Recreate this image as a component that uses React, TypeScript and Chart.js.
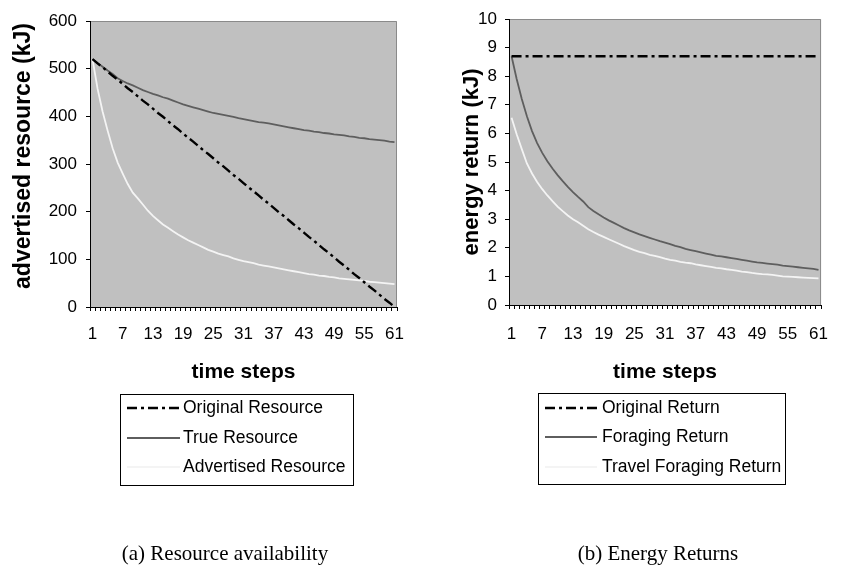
import React, { useEffect, useRef } from 'react';
import Chart from 'chart.js/auto';

// ---------- data ----------
const timeSteps = ['1','2','3','4','5','6','7','8','9','10','11','12','13','14','15','16','17','18','19','20','21','22','23','24','25','26','27','28','29','30','31','32','33','34','35','36','37','38','39','40','41','42','43','44','45','46','47','48','49','50','51','52','53','54','55','56','57','58','59','60','61'];
const shownTicks = ['1','7','13','19','25','31','37','43','49','55','61'];

const originalResource = [520,511,503,494,485,477,468,459,451,442,433,425,416,407,399,390,381,373,364,355,347,338,329,321,312,303,295,286,277,269,260,251,243,234,225,217,208,199,191,182,173,165,156,147,139,130,121,113,104,95,87,78,69,61,52,43,35,26,17,9,0];
const trueResource = [520,512,504,496,489,480,474,469,465,460,455,451,447,444,440,437,433,429,425,422,419,416,413,410,407,405,403,401,399,396,394,392,390,388,387,385,383,381,379,377,375,373,371,370,368,367,365,364,362,361,360,358,357,355,354,352,351,350,349,347,346];
const advertisedResource = [520,458,410,370,333,303,280,258,240,228,215,202,191,182,173,166,159,152,146,140,135,130,125,120,116,112,109,106,102,99,96,94,92,89,87,85,83,81,79,77,75,73,71,69,68,66,65,63,62,60,59,58,57,56,55,53,52,51,50,49,48];

const originalReturn = [8.7,8.7,8.7,8.7,8.7,8.7,8.7,8.7,8.7,8.7,8.7,8.7,8.7,8.7,8.7,8.7,8.7,8.7,8.7,8.7,8.7,8.7,8.7,8.7,8.7,8.7,8.7,8.7,8.7,8.7,8.7,8.7,8.7,8.7,8.7,8.7,8.7,8.7,8.7,8.7,8.7,8.7,8.7,8.7,8.7,8.7,8.7,8.7,8.7,8.7,8.7,8.7,8.7,8.7,8.7,8.7,8.7,8.7,8.7,8.7,8.7];
const foragingReturn = [8.7,7.9,7.2,6.6,6.08,5.66,5.32,5.03,4.77,4.54,4.33,4.13,3.95,3.78,3.62,3.42,3.29,3.17,3.06,2.96,2.87,2.78,2.69,2.61,2.54,2.47,2.41,2.35,2.29,2.23,2.18,2.13,2.07,2.02,1.96,1.92,1.88,1.84,1.8,1.76,1.72,1.7,1.67,1.64,1.61,1.58,1.55,1.52,1.49,1.47,1.45,1.43,1.41,1.38,1.36,1.34,1.32,1.3,1.28,1.26,1.23];
const travelForagingReturn = [6.55,5.97,5.45,4.95,4.6,4.3,4.05,3.83,3.63,3.44,3.28,3.13,3.0,2.89,2.77,2.65,2.55,2.46,2.38,2.3,2.22,2.14,2.06,1.99,1.92,1.86,1.81,1.75,1.72,1.67,1.62,1.58,1.55,1.51,1.48,1.46,1.42,1.39,1.36,1.33,1.3,1.28,1.25,1.23,1.2,1.17,1.15,1.12,1.1,1.08,1.07,1.05,1.03,1.0,0.99,0.98,0.97,0.96,0.95,0.94,0.93];

const SANS = '"Liberation Sans", Arial, Helvetica, sans-serif';
const SERIF = '"Liberation Serif", "Times New Roman", serif';

const panelPlugin = {
  id: 'panel',
  beforeDraw(chart: any) {
    const { ctx, chartArea: a } = chart;
    ctx.save();
    ctx.fillStyle = '#c0c0c0';
    ctx.fillRect(a.left, a.top, a.right - a.left, a.bottom - a.top);
    ctx.strokeStyle = '#8a8a8a';
    ctx.lineWidth = 1;
    ctx.beginPath();
    ctx.moveTo(a.left, a.top + 0.5);
    ctx.lineTo(a.right - 0.5, a.top + 0.5);
    ctx.lineTo(a.right - 0.5, a.bottom);
    ctx.stroke();
    ctx.restore();
  },
  afterDraw(chart: any, _a: any, opts: any) {
    const { ctx } = chart;
    const L = opts.legend;
    ctx.save();
    // y axis title
    ctx.save();
    ctx.translate(opts.yTitleX, opts.yTitleY);
    ctx.rotate(-Math.PI / 2);
    ctx.fillStyle = '#000';
    ctx.font = 'bold ' + opts.yTitleSize + 'px ' + SANS;
    ctx.textAlign = 'center';
    ctx.textBaseline = 'middle';
    ctx.fillText(opts.yTitle, 0, 0);
    ctx.restore();
    // legend box
    ctx.fillStyle = '#ffffff';
    ctx.fillRect(L.x, L.y, L.w, L.h);
    ctx.strokeStyle = '#000';
    ctx.lineWidth = 1;
    ctx.strokeRect(L.x + 0.5, L.y + 0.5, L.w, L.h);
    chart.data.datasets.forEach((ds: any, i: number) => {
      const y = L.rows[i];
      ctx.save();
      ctx.strokeStyle = ds.borderColor;
      ctx.lineWidth = ds.borderWidth;
      ctx.setLineDash(ds.borderDash || []);
      ctx.beginPath();
      ctx.moveTo(L.sx0, y);
      ctx.lineTo(L.sx1, y);
      ctx.stroke();
      ctx.restore();
      ctx.fillStyle = '#000';
      ctx.font = '17.5px ' + SANS;
      ctx.textBaseline = 'middle';
      ctx.textAlign = 'left';
      ctx.fillText(ds.label, L.tx, y);
    });
    ctx.fillStyle = '#000';
    ctx.font = '21px ' + SERIF;
    ctx.textAlign = 'center';
    ctx.textBaseline = 'alphabetic';
    ctx.fillText(opts.caption, opts.captionX, opts.captionY);
    ctx.restore();
  },
};

function makeChart(canvas: HTMLCanvasElement, p: any) {
  return new Chart(canvas, {
    type: 'line',
    data: {
      labels: timeSteps,
      datasets: [
        { label: p.names[0], data: p.series[0], borderColor: '#000000', borderWidth: 2.4, borderDash: [10, 4, 3, 4], pointRadius: 0, tension: 0 },
        { label: p.names[1], data: p.series[1], borderColor: '#5e5e5e', borderWidth: 1.8, pointRadius: 0, tension: 0 },
        { label: p.names[2], data: p.series[2], borderColor: '#f4f4f4', borderWidth: 1.8, pointRadius: 0, tension: 0 },
      ],
    },
    options: {
      responsive: false,
      animation: false,
      devicePixelRatio: 1,
      font: { family: SANS },
      layout: { padding: p.padding },
      plugins: {
        legend: { display: false },
        tooltip: { enabled: false },
        panel: {
          legend: p.legend, caption: p.caption, captionX: p.captionX, captionY: 560,
          yTitle: p.yTitle, yTitleX: p.yTitleX, yTitleY: p.yTitleY, yTitleSize: p.yTitleSize,
        },
      } as any,
      scales: {
        x: {
          type: 'category',
          offset: true,
          grid: { offset: true, drawOnChartArea: false, drawTicks: true, tickLength: 4, color: '#000' },
          border: { color: '#000', width: 1 },
          ticks: {
            autoSkip: false, maxRotation: 0, minRotation: 0, padding: p.xTickPad, color: '#000',
            font: { size: 17, family: SANS },
            callback: function (this: any, v: any) { const l = this.getLabelForValue(v); return shownTicks.includes(l) ? l : ''; },
          },
          title: { display: true, text: 'time steps', color: '#000', font: { size: 21, weight: 'bold', family: SANS }, padding: { top: 0, bottom: p.xTitlePad } },
          afterFit: (s: any) => { s.height = 80; },
        },
        y: {
          min: 0, max: p.yMax,
          ticks: { stepSize: p.yStep, padding: p.yTickPad, color: '#000', font: { size: 17, family: SANS } },
          grid: { drawOnChartArea: false, drawTicks: true, tickLength: 4, color: '#000' },
          border: { color: '#000', width: 1 },
          title: { display: false },
          afterFit: (s: any) => { s.width = p.yWidth; },
        },
      },
    } as any,
    plugins: [panelPlugin],
  });
}

export default function App() {
  const leftRef = useRef<HTMLCanvasElement>(null);
  const rightRef = useRef<HTMLCanvasElement>(null);
  useEffect(() => {
    const c1 = makeChart(leftRef.current!, {
      names: ['Original Resource', 'True Resource', 'Advertised Resource'],
      series: [originalResource, trueResource, advertisedResource],
      padding: { left: 0, top: 21, right: 24, bottom: 180 },
      xTickPad: 13, xTitlePad: 2, yMax: 600, yStep: 100, yTickPad: 9,
      yTitle: 'advertised resource (kJ)', yTitleX: 24, yTitleY: 156, yTitleSize: 23, yWidth: 90,
      legend: { x: 120, y: 394, w: 233, h: 91, rows: [408, 438, 467], sx0: 127, sx1: 180, tx: 183 },
      caption: '(a) Resource availability', captionX: 225,
    });
    const c2 = makeChart(rightRef.current!, {
      names: ['Original Return', 'Foraging Return', 'Travel Foraging Return'],
      series: [originalReturn, foragingReturn, travelForagingReturn],
      padding: { left: 0, top: 19, right: 5, bottom: 182 },
      xTickPad: 15, xTitlePad: 0, yMax: 10, yStep: 1, yTickPad: 8,
      yTitle: 'energy return (kJ)', yTitleX: 51, yTitleY: 162, yTitleSize: 22, yWidth: 88,
      legend: { x: 117, y: 393, w: 247, h: 91, rows: [408, 437, 467], sx0: 124, sx1: 176, tx: 181 },
      caption: '(b) Energy Returns', captionX: 237,
    });
    return () => { c1.destroy(); c2.destroy(); };
  }, []);
  return (
    <div style={{ position: 'absolute', left: 0, top: 0, width: 843, height: 567, background: '#fff' }}>
      <canvas ref={leftRef} width={421} height={567} style={{ position: 'absolute', left: 0, top: 0, width: 421, height: 567 }} />
      <canvas ref={rightRef} width={422} height={567} style={{ position: 'absolute', left: 421, top: 0, width: 422, height: 567 }} />
    </div>
  );
}
